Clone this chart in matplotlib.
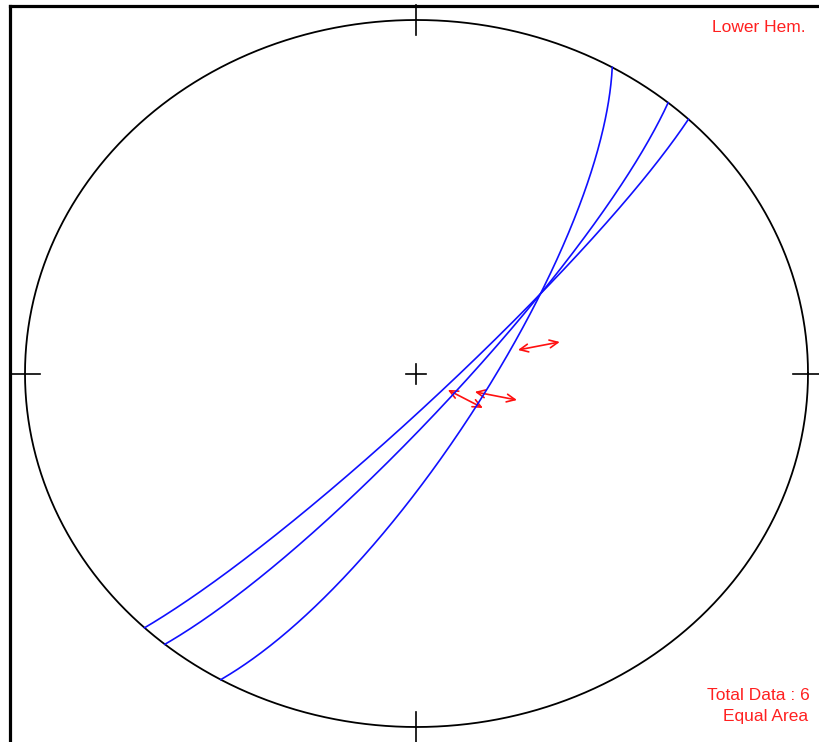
import numpy as np
import matplotlib
matplotlib.use("Agg")
import matplotlib.pyplot as plt
from matplotlib.lines import Line2D
from matplotlib.patches import FancyArrowPatch

# Fault planes: strike (deg, right-hand rule) and dip (deg)
strikes = [30.0, 40.0, 44.0]
dips = [75.5, 81.1, 83.5]

# Slip arrows: tail and head as (trend, plunge) in degrees
arrow_tail_trend = [75.6, 120.1, 109.2]
arrow_tail_plunge = [68.2, 82.5, 77.2]
arrow_head_trend = [76.3, 119.9, 106.3]
arrow_head_plunge = [59.1, 74.1, 68.2]

total_data = 6

def project(trend, plunge):
    """Lambert equal-area projection, lower hemisphere."""
    t = np.radians(trend)
    p = np.radians(plunge)
    r = np.sqrt(2.0) * np.sin((np.pi / 2 - p) / 2.0)
    return r * np.sin(t), r * np.cos(t)

def great_circle(strike, dip, n=361):
    s = np.radians(strike)
    d = np.radians(dip)
    rake = np.linspace(0, np.pi, n)
    sv = np.array([np.cos(s), np.sin(s), 0.0])
    dd = s + np.pi / 2
    dv = np.array([np.cos(d) * np.cos(dd), np.cos(d) * np.sin(dd), np.sin(d)])
    v = np.outer(np.cos(rake), sv) + np.outer(np.sin(rake), dv)
    trend = np.degrees(np.arctan2(v[:, 1], v[:, 0]))
    plunge = np.degrees(np.arcsin(np.clip(v[:, 2], -1, 1)))
    return project(trend, plunge)

W, H = 820, 742
fig = plt.figure(figsize=(W / 100, H / 100), dpi=100)
fig.patch.set_facecolor("white")

# net occupies an elliptical area of the window
ax = fig.add_axes([25 / W, 15 / H, 783 / W, 707 / H])
ax.set_xlim(-1, 1)
ax.set_ylim(-1, 1)
ax.axis("off")

# primitive circle
th = np.linspace(0, 2 * np.pi, 721)
ax.plot(np.cos(th), np.sin(th), color="black", lw=1.3, clip_on=False)

# cardinal ticks and centre cross
tx = 15 / 391.5
ty = 15 / 353.5
for xx, yy in [(0, 1), (0, -1)]:
    ax.plot([xx, xx], [yy - ty, yy + ty], color="black", lw=1.2, clip_on=False)
for xx, yy in [(1, 0), (-1, 0)]:
    ax.plot([xx - tx, xx + tx], [yy, yy], color="black", lw=1.2, clip_on=False)
cx, cy = 10 / 391.5, 10 / 353.5
ax.plot([-cx, cx], [0, 0], color="black", lw=1.2)
ax.plot([0, 0], [-cy, cy], color="black", lw=1.2)

# great circles
for s, d in zip(strikes, dips):
    x, y = great_circle(s, d)
    ax.plot(x, y, color="#1010ff", lw=1.2)

# slip arrows
for t0, p0, t1, p1 in zip(arrow_tail_trend, arrow_tail_plunge,
                          arrow_head_trend, arrow_head_plunge):
    x0, y0 = project(t0, p0)
    x1, y1 = project(t1, p1)
    ax.add_patch(FancyArrowPatch((x0, y0), (x1, y1),
                                 arrowstyle="<->,head_length=6,head_width=2.8",
                                 color="#ff1010", lw=1.2,
                                 shrinkA=0, shrinkB=0))

# window frame (left and top edges)
fig.add_artist(Line2D([10 / W, 10 / W], [0, 1 - 6 / H], color="black",
                      lw=2.3, transform=fig.transFigure))
fig.add_artist(Line2D([10 / W, 1], [1 - 6 / H, 1 - 6 / H], color="black",
                      lw=2.3, transform=fig.transFigure))

font = dict(family=["Liberation Sans", "DejaVu Sans"], color="#ff2020",
            fontsize=12.5)
fig.text(806 / W, 1 - 28 / H, "Lower Hem.", ha="right", va="center", **font)
fig.text(810 / W, 1 - 695 / H, f"Total Data : {total_data}", ha="right",
         va="center", **font)
fig.text(808 / W, 1 - 716 / H, "Equal Area", ha="right", va="center", **font)

fig.savefig("out.png", dpi=100, facecolor="white")
